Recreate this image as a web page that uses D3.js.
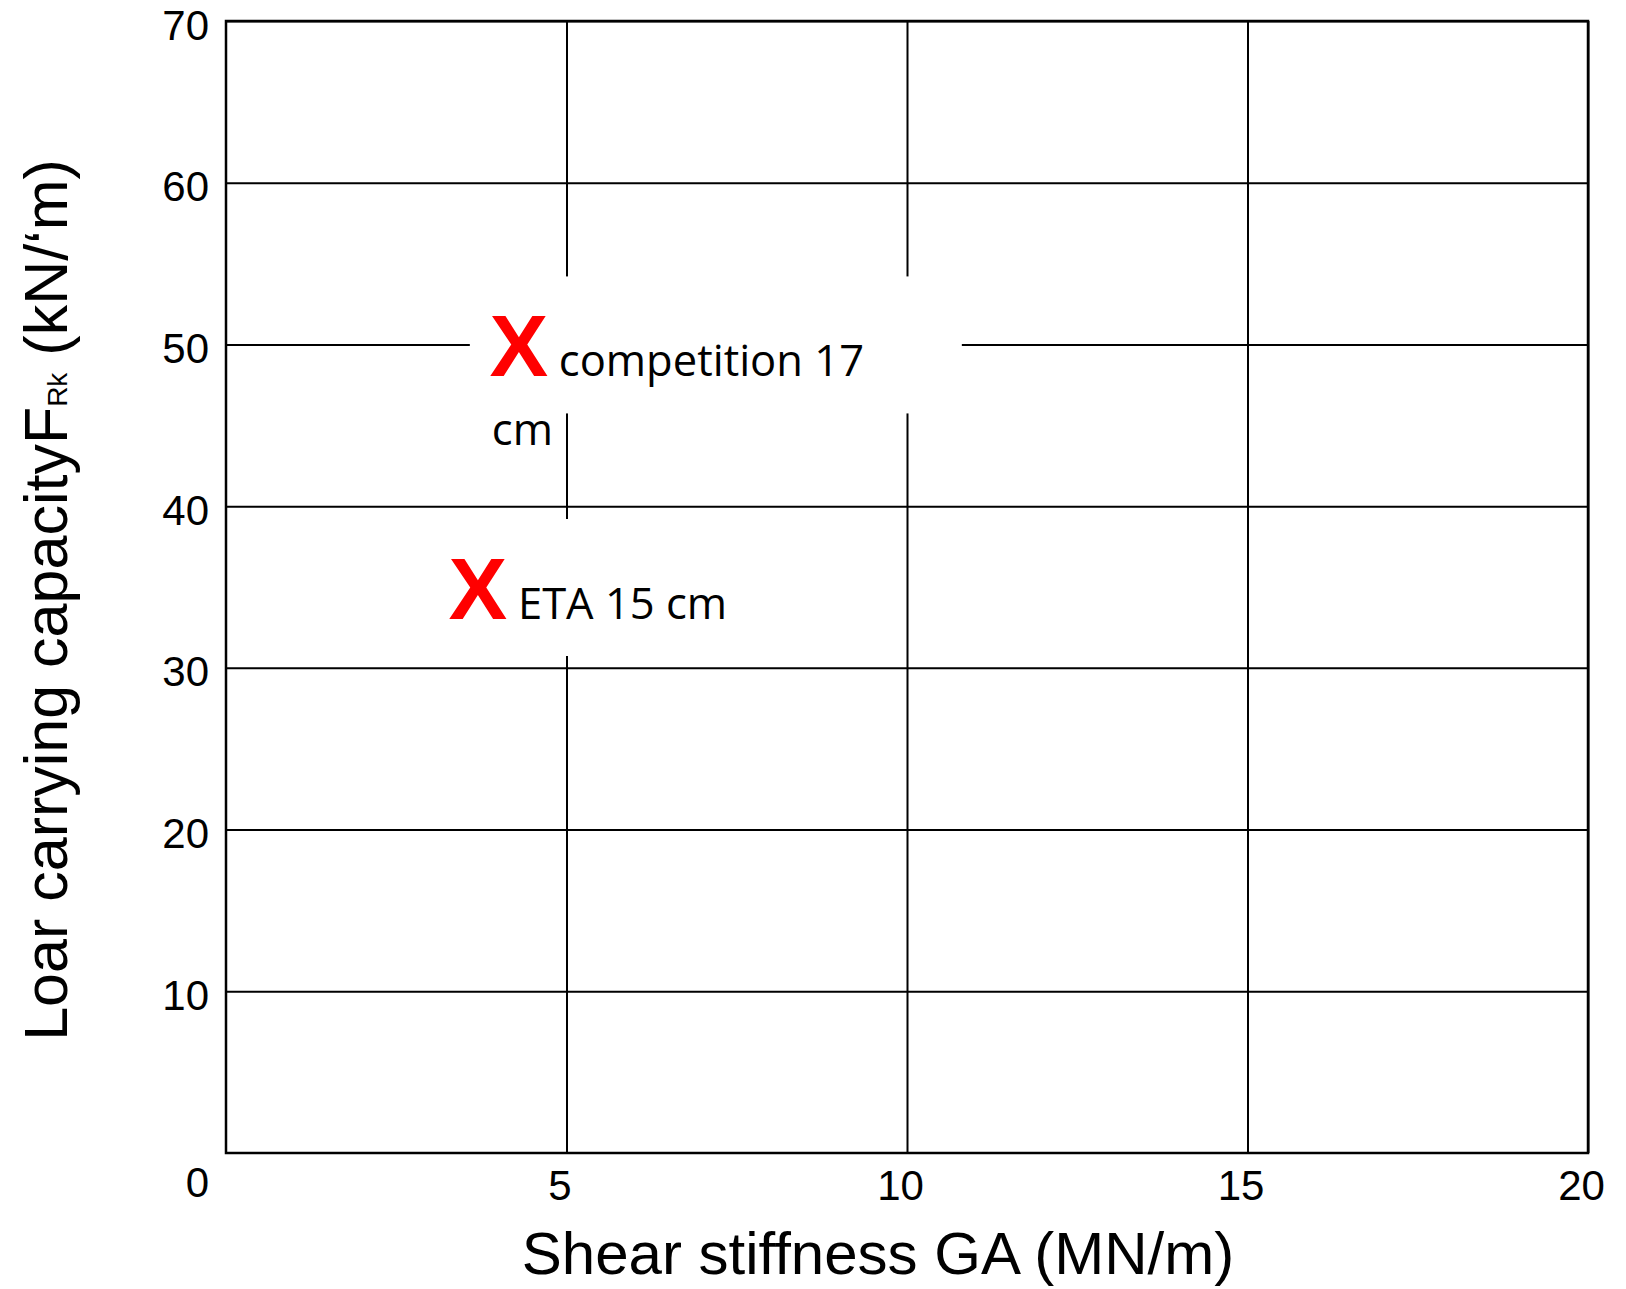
<html>
<head>
  <meta charset="utf-8" />
  <script src="https://cdnjs.cloudflare.com/ajax/libs/d3/7.8.5/d3.min.js"></script>
  <style>
    body { margin: 0; background: #fff; }
    .tick > line { stroke: #000; stroke-width: 2; }
    .tick > text { fill: #000; }
    path.domain { stroke: none; }
  </style>
</head>
<body>
  <svg></svg>
  <script>

  // values
  var pointLabels = ["competition 17 cm", "ETA 15 cm"]
  var shearGA = [4.3, 3.7]      // MN/m
  var loadFRk = [50, 35]        // kN/m
  var xTicks = [5, 10, 15, 20]
  var yTicks = [10, 20, 30, 40, 50, 60, 70]

  var W = 1626, H = 1289
  var margin = { left: 226, right: 38, top: 21, bottom: 136 }
  var plotW = W - margin.left - margin.right
  var plotH = H - margin.top - margin.bottom

  var svg = d3.select("svg").attr("width", W).attr("height", H)
  var g = svg.append("g").attr("transform", "translate(" + margin.left + "," + margin.top + ")")

  var xScale = d3.scaleLinear().domain([0, 20]).range([0, plotW])
  var yScale = d3.scaleLinear().domain([0, 70]).range([plotH, 0])

  var tickFont = "'Liberation Sans', Arial, sans-serif"

  // grid + labels through the axes
  var yAxis = g.append("g")
    .call(d3.axisLeft(yScale).tickValues(yTicks).tickSize(-plotW).tickPadding(17))
  yAxis.attr("font-family", tickFont).attr("font-size", 42)
  yAxis.selectAll(".tick text").attr("dy", "0.43em")

  var xAxis = g.append("g")
    .attr("transform", "translate(0," + plotH + ")")
    .call(d3.axisBottom(xScale).tickValues(xTicks).tickSize(-plotH).tickPadding(17))
  xAxis.attr("font-family", tickFont).attr("font-size", 42)
  xAxis.selectAll(".tick text").attr("dx", -7)

  // origin label sits under the y labels
  g.append("text")
    .attr("x", xScale(0) - 17)
    .attr("y", yScale(0) + 44)
    .attr("text-anchor", "end")
    .attr("font-family", tickFont)
    .attr("font-size", 42)
    .text("0")

  // annotations: white text boxes with a red X
  var annFont = "'Open Sans', 'Noto Sans', sans-serif"
  var annSize = 43.5
  pointLabels.forEach(function(label, i) {
    var cx = xScale(shearGA[i]), cy = yScale(loadFRk[i])
    var box = g.append("g")
    var rect = box.append("rect").attr("fill", "#fff")

    box.append("text")
      .attr("x", cx).attr("y", cy + 32)
      .attr("text-anchor", "middle")
      .attr("font-family", tickFont)
      .attr("font-weight", "bold")
      .attr("font-size", 88)
      .attr("fill", "#ff0000")
      .text("X")

    // wrap words: first line after the X, then under it
    var words = label.split(" ")
    var lines = [[]]
    var probe = box.append("text").attr("font-family", annFont).attr("font-size", annSize)
    words.forEach(function(w) {
      var cur = lines[lines.length - 1]
      probe.text(cur.concat([w]).join(" "))
      if (cur.length && probe.node().getComputedTextLength() > 350) lines.push([w])
      else cur.push(w)
    })
    probe.remove()

    var maxEnd = 0
    lines.forEach(function(l, j) {
      var t = box.append("text")
        .attr("x", j === 0 ? cx + 40 : cx - 27)
        .attr("y", cy + 32 + j * 69)
        .attr("font-family", annFont)
        .attr("font-size", annSize)
        .attr("fill", "#000")
        .text(l.join(" "))
      var bb = t.node().getBBox()
      maxEnd = Math.max(maxEnd, bb.x + bb.width)
    })

    var left = cx - 49
    rect.attr("x", left).attr("y", cy - 68)
      .attr("width", Math.min(492, maxEnd - left + 100))
      .attr("height", 137)
  })

  // frame
  g.append("rect")
    .attr("width", plotW).attr("height", plotH)
    .attr("fill", "none").attr("stroke", "#000").attr("stroke-width", 2.5)

  // axis titles
  svg.append("text")
    .attr("x", 878).attr("y", 1274)
    .attr("text-anchor", "middle")
    .attr("font-family", tickFont)
    .attr("font-size", 60)
    .text("Shear stiffness GA (MN/m)")

  var yt = svg.append("text")
    .attr("transform", "translate(67,600) rotate(-90)")
    .attr("text-anchor", "middle")
    .attr("font-family", tickFont)
    .attr("font-size", 61)
  yt.append("tspan").text("Loar carrying capacityF")
  yt.append("tspan").attr("font-size", 28).text("Rk")
  yt.append("tspan").text(" (kN/\u2018m)")

  </script>
</body>
</html>
